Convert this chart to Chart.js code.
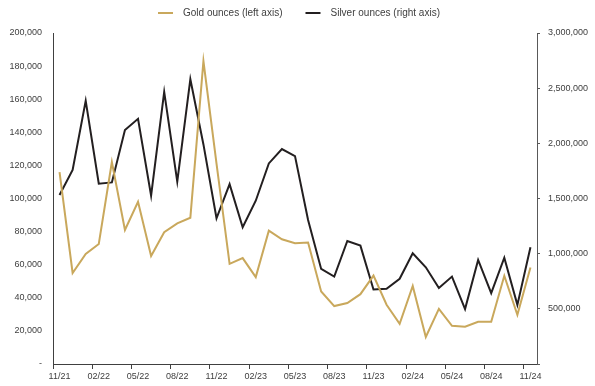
<!DOCTYPE html>
<html>
<head>
<meta charset="utf-8">
<script src="https://cdn.jsdelivr.net/npm/chart.js@4/dist/chart.umd.min.js"></script>
<style>
  html, body { margin: 0; padding: 0; background: #ffffff; }
  #wrap { width: 595px; height: 386px; position: relative; }
</style>
</head>
<body>
<div id="wrap"><canvas id="c" width="595" height="386"></canvas></div>
<script>
const months = ["11/21","12/21","01/22","02/22","03/22","04/22","05/22","06/22","07/22","08/22","09/22","10/22",
  "11/22","12/22","01/23","02/23","03/23","04/23","05/23","06/23","07/23","08/23","09/23","10/23",
  "11/23","12/23","01/24","02/24","03/24","04/24","05/24","06/24","07/24","08/24","09/24","10/24","11/24"];

const goldOunces = [116000, 55000, 66500, 72500, 122000, 81000, 98000, 65300, 79600, 85000, 88400, 183000,
  121000, 60500, 64000, 52500, 80600, 75400, 73000, 73400, 43800, 35000, 36800, 42200,
  53400, 35800, 24300, 47200, 16300, 33300, 23100, 22500, 25500, 25500, 53300, 29700, 58300];

const silverOunces = [1532000, 1758000, 2385000, 1634000, 1646000, 2120000, 2222000, 1525000, 2466000, 1652000, 2581000, 1990000,
  1321000, 1630000, 1239000, 1480000, 1818000, 1948000, 1884000, 1305000, 862000, 792000, 1115000, 1073000,
  675000, 681000, 772000, 1004000, 877000, 688000, 792000, 498000, 943000, 642000, 964000, 536000, 1058000];

const seriesNames = ["Gold ounces (left axis)", "Silver ounces (right axis)"];
const leftTicks = { min: 0, max: 200000, step: 20000 };
const rightTicks = { min: 0, max: 3000000, step: 500000 };
const labelEvery = 3;

const GOLD = '#C9A85C';
const SILVER = '#231F20';
const TEXT = '#404040';
const FONT = "'Liberation Sans', Arial, sans-serif";

function fmt(v) {
  if (v === 0) return '-';
  return v.toLocaleString('en-US');
}

const legendPlugin = {
  id: 'topLegend',
  afterDraw(chart) {
    const ctx = chart.ctx;
    ctx.save();
    ctx.font = '10px ' + FONT;
    ctx.textBaseline = 'middle';
    ctx.textAlign = 'left';
    const lineLen = 15, gap = 10, itemGap = 23;
    const items = chart.data.datasets.map(d => ({ text: d.label, color: d.borderColor, w: ctx.measureText(d.label).width }));
    let total = 0;
    items.forEach((it, i) => { total += lineLen + gap + it.w + (i < items.length - 1 ? itemGap : 0); });
    let x = Math.round(chart.width / 2 - total / 2) + 1;
    const y = 13;
    items.forEach(it => {
      ctx.strokeStyle = it.color;
      ctx.lineWidth = 2;
      ctx.beginPath();
      ctx.moveTo(x, y);
      ctx.lineTo(x + lineLen, y);
      ctx.stroke();
      ctx.fillStyle = TEXT;
      ctx.fillText(it.text, x + lineLen + gap, y);
      x += lineLen + gap + it.w + itemGap;
    });
    ctx.restore();
  }
};

new Chart(document.getElementById('c'), {
  type: 'line',
  data: {
    labels: months,
    datasets: [
      { label: seriesNames[0], data: goldOunces, yAxisID: 'yL', borderColor: GOLD, backgroundColor: GOLD,
        borderWidth: 2, pointRadius: 0, tension: 0, fill: false },
      { label: seriesNames[1], data: silverOunces, yAxisID: 'yR', borderColor: SILVER, backgroundColor: SILVER,
        borderWidth: 2, pointRadius: 0, tension: 0, fill: false }
    ]
  },
  options: {
    responsive: false,
    animation: false,
    devicePixelRatio: 1,
    layout: { padding: { top: 33, left: 0, right: 0, bottom: 0 } },
    plugins: { legend: { display: false }, tooltip: { enabled: false }, title: { display: false } },
    scales: {
      x: {
        type: 'category',
        offset: true,
        afterFit(s) { s.height = 22; },
        border: { display: true, color: '#404040', width: 1 },
        grid: {
          offset: true,
          drawOnChartArea: false,
          drawTicks: true,
          tickLength: 5,
          color: (c) => (c.index % labelEvery === 0 ? '#404040' : 'rgba(0,0,0,0)')
        },
        ticks: {
          autoSkip: false,
          maxRotation: 0,
          minRotation: 0,
          padding: 2,
          color: TEXT,
          font: { family: FONT, size: 9 },
          callback: function (v, i) { return i % labelEvery === 0 ? this.getLabelForValue(v) : ''; }
        }
      },
      yL: {
        type: 'linear',
        position: 'left',
        min: leftTicks.min,
        max: leftTicks.max,
        afterFit(s) { s.width = 53; },
        border: { display: true, color: '#404040', width: 1 },
        grid: { drawOnChartArea: false, drawTicks: false },
        ticks: {
          stepSize: leftTicks.step,
          padding: 11,
          color: TEXT,
          font: { family: FONT, size: 9 },
          callback: (v) => fmt(v)
        }
      },
      yR: {
        type: 'linear',
        position: 'right',
        min: rightTicks.min,
        max: rightTicks.max,
        afterFit(s) { s.width = 58; },
        border: { display: true, color: '#595959', width: 1 },
        grid: { drawOnChartArea: false, drawTicks: true, tickLength: 3, color: '#595959' },
        ticks: {
          stepSize: rightTicks.step,
          padding: 8,
          color: TEXT,
          font: { family: FONT, size: 9 },
          callback: (v) => (v === 0 ? '' : fmt(v))
        }
      }
    }
  },
  plugins: [legendPlugin]
});
</script>
</body>
</html>
